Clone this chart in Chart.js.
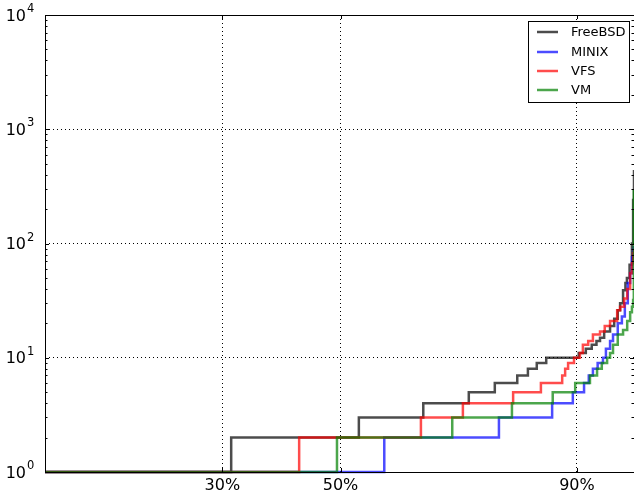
<!DOCTYPE html>
<html>
<head>
<meta charset="utf-8">
<script src="https://cdn.jsdelivr.net/npm/chart.js@4.4.0/dist/chart.umd.min.js"></script>
<style>
  html, body { margin: 0; padding: 0; background: #fff; }
  #wrap { width: 634px; height: 492px; }
</style>
</head>
<body>
<div id="wrap"><canvas id="c" width="634" height="492"></canvas></div>
<script>
// ---- data (x = percent of items, y = value) ----
const xTicks = [30, 50, 90];
const yDecades = [1, 10, 100, 1000, 10000];
const seriesNames = ['FreeBSD', 'MINIX', 'VFS', 'VM'];

const freebsdX = [0, 31.5, 53.1, 64.0, 71.7, 76.1, 79.9, 81.7, 83.2, 84.8, 90.3, 91.5, 92.5, 93.3, 93.9, 94.6, 95.6, 96.3, 96.9, 97.3, 97.8, 98.2, 98.45, 98.9, 99.3, 99.5, 99.65];
const freebsdY = [1, 2, 3, 4, 5, 6, 7, 8, 9, 10, 11, 12, 13, 14, 15, 17, 19, 22, 26, 30, 39, 45, 50, 65, 100, 240, 440];

const minixX = [0, 57.4, 76.8, 85.8, 89.3, 91.2, 92.0, 92.7, 93.5, 94.4, 94.9, 95.6, 96.1, 96.9, 97.6, 98.1, 98.6, 99.0, 99.3, 99.5, 99.65];
const minixY = [1, 2, 3, 4, 5, 6, 7, 8, 9, 10, 12, 14, 16, 20, 23, 30, 45, 55, 76, 88, 95];

const vfsX = [0, 43.0, 63.6, 70.7, 79.2, 83.9, 87.5, 88.0, 88.5, 89.5, 90.5, 91.0, 91.9, 92.7, 93.9, 94.7, 95.6, 96.8, 97.3, 98.0, 98.5, 99.0, 99.3, 99.5, 99.65];
const vfsY = [1, 2, 3, 4, 5, 6, 7, 8, 9, 10, 11, 13, 14, 16, 17, 19, 21, 26, 28, 33, 40, 55, 67, 82, 90];

const vmX = [0, 49.4, 68.9, 79.0, 85.9, 89.7, 92.2, 93.4, 94.2, 95.1, 95.6, 96.1, 96.9, 97.8, 98.5, 99.0, 99.3, 99.5, 99.62];
const vmY = [1, 2, 3, 4, 5, 6, 7, 8, 9, 10, 11, 13, 16, 17.5, 21, 25, 28, 32, 300];

const seriesColors = ['rgba(0,0,0,0.7)', 'rgba(0,0,255,0.7)', 'rgba(255,0,0,0.7)', 'rgba(0,128,0,0.7)'];

function pts(xs, ys) { return xs.map((x, i) => ({ x: x, y: ys[i] })); }
const allX = [freebsdX, minixX, vfsX, vmX];
const allY = [freebsdY, minixY, vfsY, vmY];

const FONT = '"DejaVu Sans", "Liberation Sans", sans-serif';

const datasets = seriesNames.map((name, i) => ({
  label: name,
  data: pts(allX[i], allY[i]),
  borderColor: seriesColors[i],
  backgroundColor: seriesColors[i],
  borderWidth: 2.5,
  pointRadius: 0,
  stepped: 'before',
  fill: false,
  clip: 6,
  order: seriesNames.length - i
}));

const framePlugin = {
  id: 'frame',
  afterDraw(chart) {
    const ctx = chart.ctx;
    const a = chart.chartArea;
    const ys = chart.scales.y, xs = chart.scales.x;
    ctx.save();
    // frame
    ctx.strokeStyle = '#000';
    ctx.lineWidth = 1;
    ctx.beginPath();
    ctx.moveTo(a.left + 0.5, a.bottom + 0.5);
    ctx.lineTo(a.left + 0.5, a.top + 0.5);
    ctx.lineTo(a.right + 1, a.top + 0.5);
    ctx.moveTo(a.left, a.bottom + 0.5);
    ctx.lineTo(a.right + 1, a.bottom + 0.5);
    ctx.stroke();
    // y minor + major ticks (inside)
    ctx.beginPath();
    yDecades.forEach((d, k) => {
      const py = Math.round(ys.getPixelForValue(d)) + 0.5;
      ctx.moveTo(a.left, py); ctx.lineTo(a.left + 4, py);
      ctx.moveTo(a.right, py); ctx.lineTo(a.right - 4, py);
      if (k < yDecades.length - 1) {
        for (let m = 2; m <= 9; m++) {
          const p = Math.round(ys.getPixelForValue(d * m)) + 0.5;
          ctx.moveTo(a.left, p); ctx.lineTo(a.left + 2.5, p);
          ctx.moveTo(a.right, p); ctx.lineTo(a.right - 2.5, p);
        }
      }
    });
    // x ticks top and bottom (inside)
    xTicks.forEach(v => {
      const px = Math.round(xs.getPixelForValue(v)) + 0.5;
      ctx.moveTo(px, a.top); ctx.lineTo(px, a.top + 4);
      ctx.moveTo(px, a.bottom); ctx.lineTo(px, a.bottom - 4);
    });
    ctx.stroke();

    // y tick labels: 10 with superscript exponent
    ctx.fillStyle = '#000';
    yDecades.forEach(d => {
      const py = ys.getPixelForValue(d);
      const e = Math.round(Math.log10(d));
      ctx.font = '16px ' + FONT;
      ctx.textAlign = 'right';
      ctx.textBaseline = 'alphabetic';
      ctx.fillText('10', 26, py + 5.5);
      ctx.font = '11.5px ' + FONT;
      ctx.textAlign = 'left';
      ctx.fillText(String(e), 27, py - 3);
    });

    // legend
    const lx = 528.5, ly = 21.5, lw = 101, lh = 81;
    ctx.fillStyle = '#fff';
    ctx.fillRect(lx, ly, lw, lh);
    ctx.strokeStyle = '#000';
    ctx.lineWidth = 1;
    ctx.strokeRect(lx, ly, lw, lh);
    const rows = [32, 52, 71, 90];
    chart.data.datasets.forEach((ds, i) => {
      ctx.strokeStyle = ds.borderColor;
      ctx.lineWidth = 2.5;
      ctx.beginPath();
      ctx.moveTo(537, rows[i]); ctx.lineTo(558, rows[i]);
      ctx.stroke();
      ctx.fillStyle = '#000';
      ctx.font = '13px ' + FONT;
      ctx.textAlign = 'left';
      ctx.textBaseline = 'middle';
      ctx.fillText(ds.label, 571, rows[i] + 0.5);
    });
    ctx.restore();
  }
};

new Chart(document.getElementById('c'), {
  type: 'line',
  data: { datasets: datasets },
  options: {
    responsive: false,
    animation: false,
    devicePixelRatio: 1,
    layout: { padding: { top: 15, right: 0, left: 0, bottom: 0 } },
    plugins: { legend: { display: false }, tooltip: { enabled: false } },
    scales: {
      x: {
        type: 'linear',
        min: 0,
        max: 99.65,
        afterBuildTicks: s => { s.ticks = xTicks.map(v => ({ value: v })); },
        afterFit: s => { s.height = 20; },
        grid: { color: '#000', lineWidth: 1, drawTicks: false, tickBorderDash: [1, 3] },
        border: { display: false, dash: [1, 3] },
        ticks: {
          padding: 4,
          color: '#000',
          font: { family: FONT, size: 16 },
          maxRotation: 0,
          callback: v => v + '%'
        }
      },
      y: {
        type: 'logarithmic',
        min: 1,
        max: 10000,
        afterBuildTicks: s => { s.ticks = yDecades.map(v => ({ value: v })); },
        afterFit: s => { s.width = 45; },
        grid: { color: '#000', lineWidth: 1, drawTicks: false },
        border: { display: false, dash: [1, 3] },
        ticks: { display: false }
      }
    }
  },
  plugins: [framePlugin]
});
</script>
</body>
</html>
